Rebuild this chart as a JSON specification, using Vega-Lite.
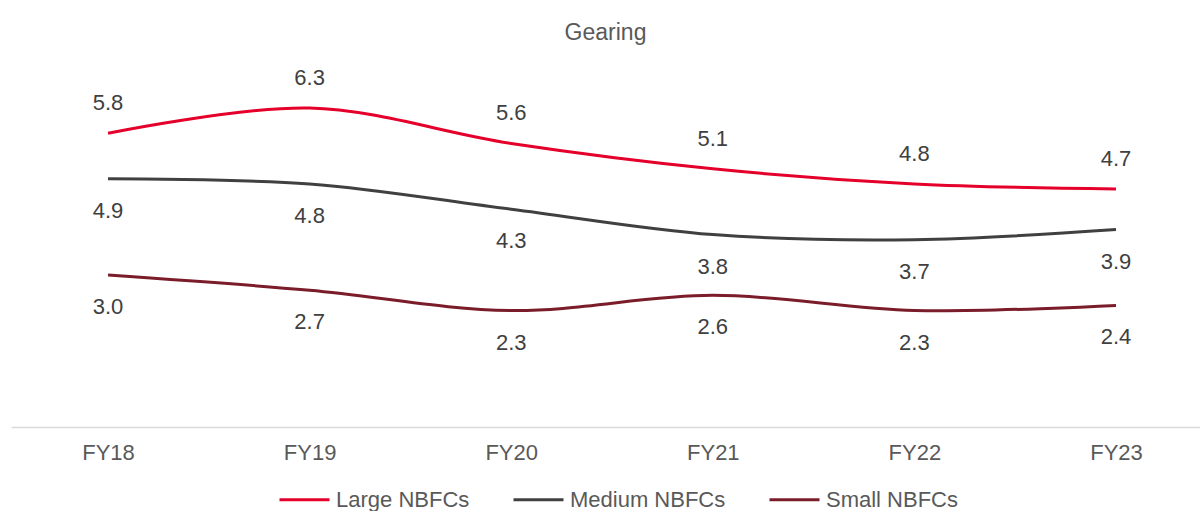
{
  "$schema": "https://vega.github.io/schema/vega-lite/v6.json",
  "width": 1189,
  "height": 357,
  "autosize": {"type": "none"},
  "padding": {"left": 11, "top": 70, "right": 0, "bottom": 84},
  "title": {"text": "Gearing", "fontSize": 23, "font": "Liberation Sans", "fontWeight": "normal", "color": "#595959", "offset": 22, "anchor": "middle"},
  "config": {"view": {"stroke": null}, "font": "Liberation Sans"},
  "data": {"values": [
    {"year": "FY18", "series": "Large NBFCs", "value": 5.8},
    {"year": "FY19", "series": "Large NBFCs", "value": 6.3},
    {"year": "FY20", "series": "Large NBFCs", "value": 5.6},
    {"year": "FY21", "series": "Large NBFCs", "value": 5.1},
    {"year": "FY22", "series": "Large NBFCs", "value": 4.8},
    {"year": "FY23", "series": "Large NBFCs", "value": 4.7},
    {"year": "FY18", "series": "Medium NBFCs", "value": 4.9},
    {"year": "FY19", "series": "Medium NBFCs", "value": 4.8},
    {"year": "FY20", "series": "Medium NBFCs", "value": 4.3},
    {"year": "FY21", "series": "Medium NBFCs", "value": 3.8},
    {"year": "FY22", "series": "Medium NBFCs", "value": 3.7},
    {"year": "FY23", "series": "Medium NBFCs", "value": 3.9},
    {"year": "FY18", "series": "Small NBFCs", "value": 3.0},
    {"year": "FY19", "series": "Small NBFCs", "value": 2.7},
    {"year": "FY20", "series": "Small NBFCs", "value": 2.3},
    {"year": "FY21", "series": "Small NBFCs", "value": 2.6},
    {"year": "FY22", "series": "Small NBFCs", "value": 2.3},
    {"year": "FY23", "series": "Small NBFCs", "value": 2.4}
  ]},
  "encoding": {
    "x": {
      "field": "year", "type": "ordinal", "sort": null,
      "scale": {"type": "point", "padding": 0.449, "align": 0.536},
      "axis": {"title": null, "labelAngle": 0, "ticks": false, "grid": false, "domainColor": "#D9D9D9", "domainWidth": 1.5, "labelFontSize": 22, "labelColor": "#595959", "labelPadding": 15, "labelFont": "Liberation Sans"}
    },
    "y": {"field": "value", "type": "quantitative", "scale": {"domain": [0, 7.05]}, "axis": null}
  },
  "layer": [
    {
      "mark": {"type": "line", "interpolate": "cardinal", "strokeWidth": 3},
      "encoding": {
        "color": {
          "field": "series", "type": "nominal",
          "scale": {"domain": ["Large NBFCs", "Medium NBFCs", "Small NBFCs"], "range": ["#E4002B", "#404040", "#7B1C2A"]},
          "legend": {"orient": "none", "legendX": 267, "legendY": 403, "direction": "horizontal", "title": null, "symbolType": "stroke", "symbolSize": 2500, "symbolStrokeWidth": 3, "labelFontSize": 22, "labelColor": "#595959", "labelOffset": 5, "columnPadding": 37, "labelFont": "Liberation Sans", "labelLimit": 300}
        }
      }
    },
    {
      "transform": [{"filter": "datum.series === 'Large NBFCs'"}],
      "mark": {"type": "text", "dy": -30, "fontSize": 22, "color": "#404040", "baseline": "middle", "align": "center"},
      "encoding": {"text": {"field": "value", "type": "quantitative", "format": ".1f"}}
    },
    {
      "transform": [{"filter": "datum.series !== 'Large NBFCs'"}],
      "mark": {"type": "text", "dy": 32, "fontSize": 22, "color": "#404040", "baseline": "middle", "align": "center"},
      "encoding": {"text": {"field": "value", "type": "quantitative", "format": ".1f"}}
    }
  ]
}
